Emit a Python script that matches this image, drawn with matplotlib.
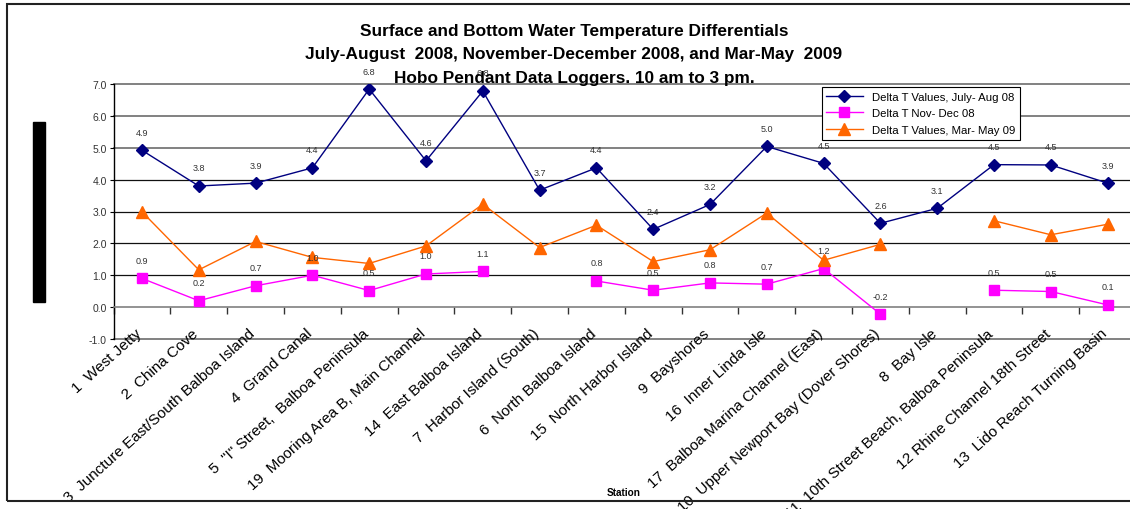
import numpy as np
import matplotlib
matplotlib.use("Agg")
import matplotlib.pyplot as plt
import matplotlib.transforms as mtransforms
from matplotlib.patches import Rectangle

plt.rcParams["font.family"] = ["Liberation Sans", "DejaVu Sans"]

# ---- data ----
stations = [
    "1  West Jetty", "2  China Cove", "3  Juncture East/South Balboa Island",
    "4  Grand Canal", '5  "I" Street,  Balboa Peninsula',
    "19  Mooring Area B, Main Channel", "14  East Balboa Island",
    "7  Harbor Island (South)", "6  North Balboa Island",
    "15  North Harbor Island", "9  Bayshores", "16  Inner Linda Isle",
    "17  Balboa Marina Channel (East)", "10  Upper Newport Bay (Dover Shores)",
    "8  Bay Isle", "11  10th Street Beach, Balboa Peninsula",
    "12 Rhine Channel 18th Street", "13  Lido Reach Turning Basin",
]
jul_aug_08 = [4.92, 3.80, 3.89, 4.37, 6.84, 4.59, 6.78, 3.67, 4.37,
              2.44, 3.22, 5.04, 4.51, 2.63, 3.10, 4.47, 4.46, 3.89]
nov_dec_08 = [0.90, 0.20, 0.67, 1.00, 0.52, 1.04, 1.12, np.nan, 0.82,
              0.53, 0.76, 0.72, 1.21, -0.22, np.nan, 0.53, 0.49, 0.07]
mar_may_09 = [2.99, 1.17, 2.06, 1.56, 1.37, 1.92, 3.23, 1.87, 2.57,
              1.43, 1.80, 2.95, 1.47, 1.97, np.nan, 2.71, 2.27, 2.60]
y_ticks = [-1, 0, 1, 2, 3, 4, 5, 6, 7]

title = ("Surface and Bottom Water Temperature Differentials\n"
         "July-August  2008, November-December 2008, and Mar-May  2009\n"
         "Hobo Pendant Data Loggers. 10 am to 3 pm.")

# ---- figure ----
fig = plt.figure(figsize=(11.3, 5.1), dpi=100)
ax = fig.add_axes([113.6 / 1130, 170 / 510, 1022.4 / 1130, 255 / 510])

x = np.arange(len(stations))

ax.plot(x, jul_aug_08, color="#000080", marker="D", markersize=6.5, lw=1.0,
        label="Delta T Values, July- Aug 08", zorder=3)
ax.plot(x, nov_dec_08, color="#FF00FF", marker="s", markersize=7, lw=1.0,
        label="Delta T Nov- Dec 08", zorder=3)
ax.plot(x, mar_may_09, color="#FF6600", marker="^", markersize=8, lw=1.0,
        label="Delta T Values, Mar- May 09", zorder=3)

# data labels (only the first two series have them)
for series in (jul_aug_08, nov_dec_08):
    for xi, v in zip(x, series):
        if np.isnan(v):
            continue
        ax.annotate(f"{v:.1f}", (xi, v), xytext=(0, 13), textcoords="offset points",
                    ha="center", va="center", fontsize=6.5, color="#333333", zorder=4)

ax.set_xlim(-0.5, len(stations) - 0.5)
ax.set_ylim(-1, 7)
ax.set_yticks(y_ticks)
ax.set_yticklabels([f"{t:.1f}" for t in y_ticks], fontsize=7.5, color="#333333")
ax.tick_params(axis="y", length=3, width=0.8, pad=2)

# gridlines (upper and bottom ones look lighter in the original)
for t in y_ticks:
    if t == 0:
        continue
    if t in (-1, 5, 6, 7):
        ax.axhline(t, color="#777777", lw=1.3, zorder=1, clip_on=False)
    else:
        ax.axhline(t, color="#111111", lw=0.9, zorder=1, clip_on=False)

# x axis sits at zero, labels hang below the plot
for s in ("top", "right"):
    ax.spines[s].set_visible(False)
ax.spines["bottom"].set_position(("data", 0))
ax.spines["bottom"].set_color("#808080")
ax.spines["bottom"].set_linewidth(1.2)
ax.spines["left"].set_linewidth(1.0)

ax.set_xticks(x)
ax.set_xticklabels(stations, rotation=42, ha="right", va="top",
                   rotation_mode="anchor", fontsize=11)
ax.tick_params(axis="x", which="major", length=0, pad=13.5)
shift = mtransforms.ScaledTranslation(-7 / 100, 0, fig.dpi_scale_trans)
for lab in ax.get_xticklabels():
    lab.set_transform(lab.get_transform() + shift)
ax.set_xticks(np.arange(len(stations) + 1) - 0.5, minor=True)
ax.tick_params(axis="x", which="minor", length=5, width=1.0, color="#333333",
               direction="out")

leg = ax.legend(loc="upper left", bbox_to_anchor=(0.6926, 0.988), borderaxespad=0,
                fontsize=8.2, handlelength=3.2, labelspacing=0.6, fancybox=False,
                framealpha=1, edgecolor="black", borderpad=0.4)
leg.get_frame().set_linewidth(0.8)

fig.text(574 / 1130, 1 - 55 / 510, title, ha="center", va="center",
         fontsize=12.4, fontweight="bold", linespacing=1.7)
fig.text(624 / 1130, 1 - 493 / 510, "Station", ha="center", va="center",
         fontsize=7.2, fontweight="bold")

# outer chart frame and the collapsed axis title block
fig.patches.append(Rectangle((7 / 1130, 8 / 510), 1.2, 497 / 510, fill=False,
                             lw=1.5, edgecolor="#222222", transform=fig.transFigure))
fig.patches.append(Rectangle((33 / 1130, 207 / 510), 12 / 1130, 180 / 510,
                             color="black", transform=fig.transFigure))

fig.savefig("out.png", dpi=100)
